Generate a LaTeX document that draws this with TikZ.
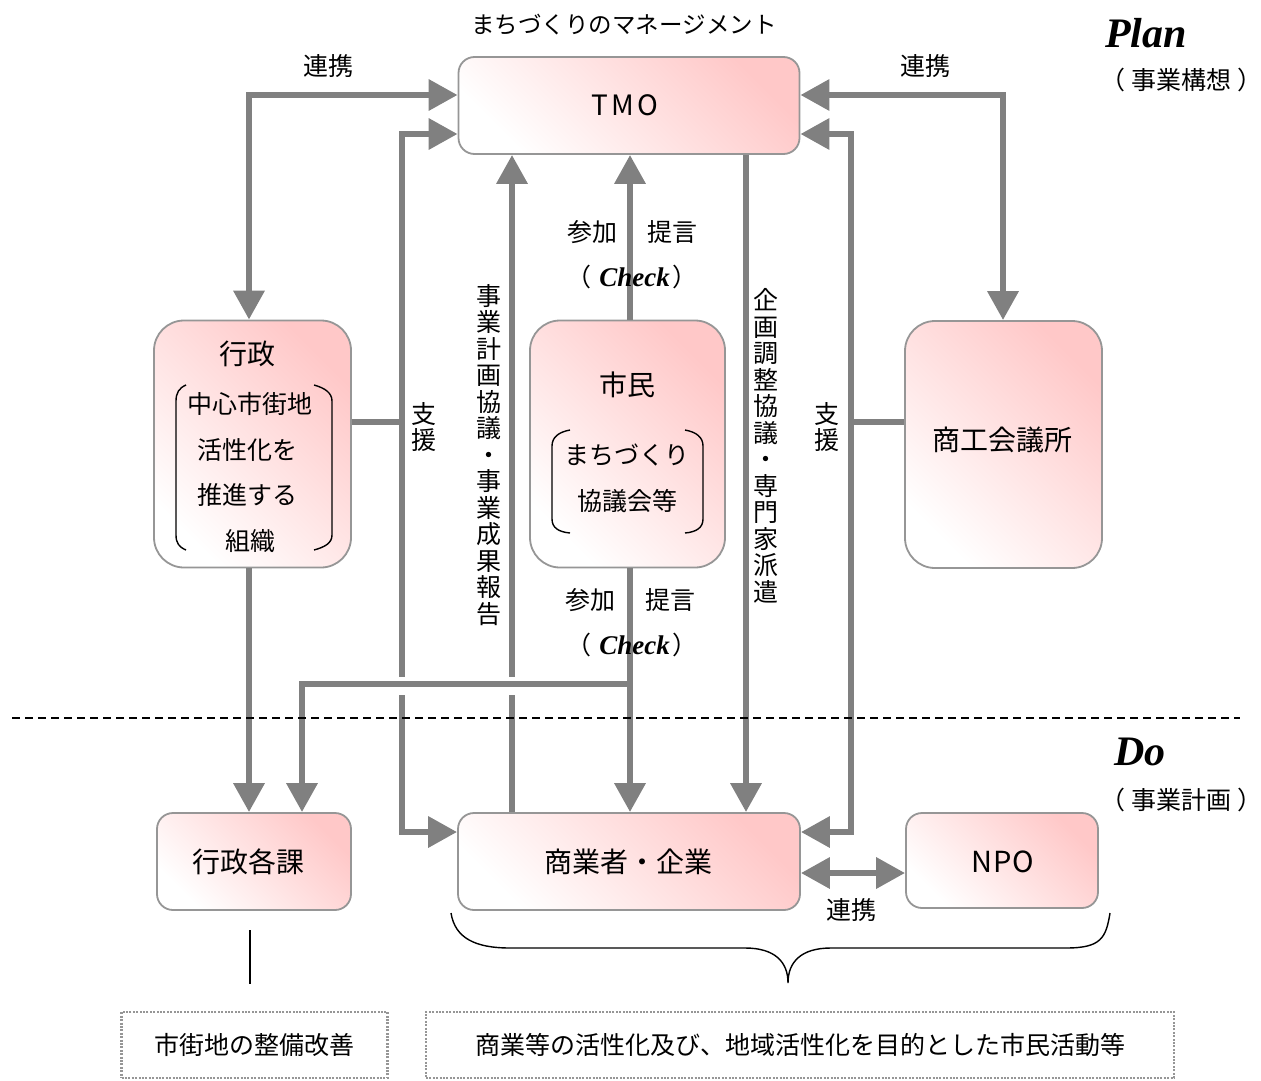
\documentclass[tikz,border=0pt]{standalone}
\usepackage{fontspec}
\setmainfont{Noto Sans CJK JP}
\newfontfamily\ser{Liberation Serif}
\usetikzlibrary{arrows.meta,calc}
\definecolor{pk}{RGB}{255,200,200}
\definecolor{ac}{RGB}{128,128,128}
\definecolor{bd}{RGB}{150,150,150}
\begin{document}
\begin{tikzpicture}[x=1pt,y=-1pt,
  box/.style={draw=bd, line width=1.8pt, rounded corners=16pt, shading=axis,
    top color=pk, bottom color=white, shading angle=-45, inner sep=0},
  tallbox/.style={box, rounded corners=30pt},
  lab/.style={font=\fontsize{25}{30}\selectfont, inner sep=0},
  ttl/.style={font=\fontsize{28}{32}\selectfont, inner sep=0},
  vlab/.style={font=\fontsize{25}{26.5}\selectfont, align=center, inner sep=0},
  big/.style={font=\ser\bfseries\itshape\fontsize{42}{46}\selectfont, inner sep=0},
  chk/.style={font=\fontsize{25}{30}\selectfont, inner sep=0},
  arr/.style={draw=ac, line width=6.5pt, -{Triangle[length=29pt,width=30pt]}},
  arrb/.style={draw=ac, line width=6.5pt, {Triangle[length=29pt,width=30pt]}-{Triangle[length=29pt,width=30pt]}},
  ln/.style={draw=ac, line width=6.5pt},
  dbox/.style={draw=bd, line width=2.2pt, dash pattern=on 2pt off 1.4pt, inner sep=0, font=\fontsize{25}{30}\selectfont},
  brk/.style={draw=black, line width=1.4pt},
]
\useasboundingbox (0,0) rectangle (1261,1081);

% boxes
\node[box, minimum width=341, minimum height=97] (tmo) at (629,105.5) {};
\node[ttl, font=\fontsize{28}{32}\selectfont] at (625,105) {T\hspace{3pt}M\hspace{3pt}O};
\node[tallbox, minimum width=197, minimum height=247] (gyosei) at (252.5,444) {};
\node[tallbox, minimum width=195, minimum height=247] (shimin) at (627.5,444) {};
\node[tallbox, minimum width=197, minimum height=247] (shoko) at (1003.5,444.5) {};
\node[box, minimum width=194, minimum height=97] (kakka) at (254,861.5) {};
\node[box, minimum width=342, minimum height=97] (shogyo) at (629,861.5) {};
\node[box, minimum width=192, minimum height=95] (npo) at (1002,860.5) {};

% box texts
\node[ttl] at (247,354) {行政};
\node[lab] at (250,404) {中心市街地};
\node[lab] at (247,450) {活性化を};
\node[lab] at (247,495) {推進する};
\node[lab] at (250,541) {組織};
\draw[brk] (186,385) .. controls (179,388) and (176,393) .. (176,401) -- (176,535) .. controls (176,543) and (179,547) .. (186,550);
\draw[brk] (314,385) .. controls (325,388) and (332,393) .. (332,401) -- (332,535) .. controls (332,543) and (325,547) .. (314,550);

\node[ttl] at (627,385) {市民};
\node[lab] at (627,455) {まちづくり};
\node[lab] at (627,501) {協議会等};
\draw[brk] (570,430) .. controls (559,432) and (552,437) .. (552,446) -- (552,519) .. controls (552,528) and (559,532) .. (570,533);
\draw[brk] (685,430) .. controls (696,432) and (703,437) .. (703,446) -- (703,519) .. controls (703,528) and (696,532) .. (685,533);

\node[ttl] at (1002,440) {商工会議所};
\node[ttl] at (248,862) {行政各課};
\node[ttl] at (628,862) {商業者・企業};
\node[ttl, font=\fontsize{29}{32}\selectfont] at (1003,862) {N\hspace{1pt}P\hspace{1pt}O};

% coordinates
\coordinate (tl) at (249,95);
\coordinate (tr) at (1003,95);
\coordinate (jl) at (402,422);
\coordinate (jlt) at (402,134);
\coordinate (jlb) at (402,832);
\coordinate (jr) at (851,422);
\coordinate (jrt) at (851,134);
\coordinate (jrb) at (851,832);
\coordinate (kx) at (512,0);
\coordinate (cx) at (630,0);
\coordinate (px) at (746,0);
\coordinate (gx) at (249,0);
\coordinate (br) at (630,684);
\coordinate (bl) at (302,684);
\coordinate (nl) at (0,873);

% connectors
\draw[arrb] (tl |- gyosei.north) -- (tl) -- (tl -| tmo.west);
\draw[arrb] (tmo.east |- tr) -- (tr) -- (tr |- shoko.north);
\draw[ln] (jl -| gyosei.east) -- (jl);
\draw[arr] (jl) -- (jlt) -- (jlt -| tmo.west);
\draw[arr] (jl) -- (jlb) -- (jlb -| shogyo.west);
\draw[ln] (jr -| shoko.west) -- (jr);
\draw[arr] (jr) -- (jrt) -- (jrt -| tmo.east);
\draw[arr] (jr) -- (jrb) -- (jrb -| shogyo.east);
\draw[arr] (kx |- shogyo.north) -- (kx |- tmo.south);
\draw[arr] (cx |- shimin.north) -- (cx |- tmo.south);
\draw[arr] (cx |- shimin.south) -- (cx |- shogyo.north);
\draw[arr] (px |- tmo.south) -- (px |- shogyo.north);
\draw[arr] (gx |- gyosei.south) -- (gx |- kakka.north);
\draw[white, line width=18pt] (392,686) -- (522,686);
\draw[arr] (br) -- (bl) -- (bl |- kakka.north);
\draw[arrb] (shogyo.east |- nl) -- (npo.west |- nl);

% labels
\node[font=\fontsize{23.5}{28}\selectfont, inner sep=0] at (624,25) {まちづくりのマネージメント};
\node[lab] at (328,66) {連携};
\node[lab] at (925,66) {連携};
\node[lab] at (851,910) {連携};
\node[vlab] at (424,427) {支\\援};
\node[vlab] at (827,427) {支\\援};
\node[vlab] at (489,455) {事\\業\\計\\画\\協\\議\\・\\事\\業\\成\\果\\報\\告};
\node[vlab] at (766,446) {企\\画\\調\\整\\協\\議\\・\\専\\門\\家\\派\\遣};
\node[lab] at (592,232) {参加};
\node[lab] at (672,232) {提言};
\node[chk] at (632,277) {（\hspace{8pt}{\ser\bfseries\itshape\fontsize{27}{30}\selectfont Check}\hspace{3pt}）};
\node[lab] at (590,600) {参加};
\node[lab] at (670,600) {提言};
\node[chk] at (632,645) {（\hspace{8pt}{\ser\bfseries\itshape\fontsize{27}{30}\selectfont Check}\hspace{3pt}）};

\node[big] at (1146,33) {Plan};
\node[lab] at (1181,80) {（\hspace{6pt}事業構想\hspace{6pt}）};
\node[big] at (1140,752) {Do};
\node[lab] at (1181,800) {（\hspace{6pt}事業計画\hspace{6pt}）};

% dashed separator
\draw[black, line width=1.5pt, dash pattern=on 8pt off 5pt] (12,718) -- (1240,718);

% bottom
\draw[black, line width=1.4pt] (250,930) -- (250,984);
\draw[brk] (451,913) .. controls (455,938) and (475,948) .. (510,948) -- (745,948) .. controls (775,948) and (788,962) .. (788,983)
  .. controls (788,962) and (801,948) .. (831,948) -- (1066,948) .. controls (1101,948) and (1106,938) .. (1110,913);
\node[dbox, minimum width=266, minimum height=66] (b1) at (254.5,1045) {市街地の整備改善};
\node[dbox, minimum width=748, minimum height=66] (b2) at (800,1045) {商業等の活性化及び、地域活性化を目的とした市民活動等};
\end{tikzpicture}
\end{document}
